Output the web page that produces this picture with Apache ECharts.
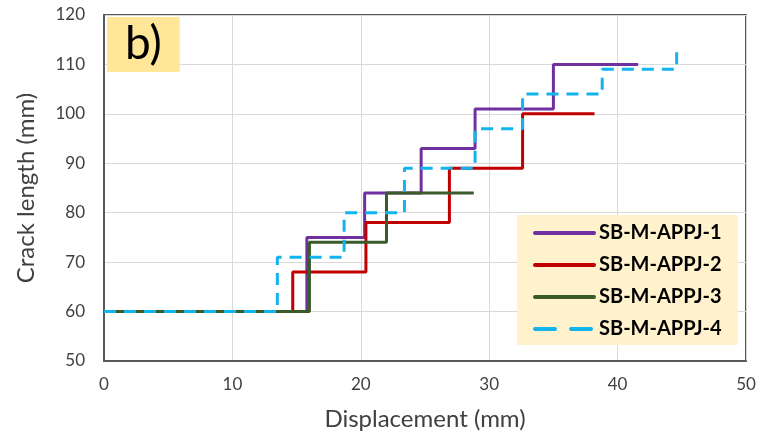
<!DOCTYPE html>
<html>
<head>
<meta charset="utf-8">
<script src="https://cdn.jsdelivr.net/npm/echarts@6/dist/echarts.min.js"></script>
<style>
  html, body { margin: 0; padding: 0; background: #fff; }
  #main { width: 761px; height: 439px; }
</style>
</head>
<body>
<div id="main"></div>
<script>
// step points: x where the crack length jumps, y = new crack length
var names = ["SB-M-APPJ-1", "SB-M-APPJ-2", "SB-M-APPJ-3", "SB-M-APPJ-4"];
var disp1 = [0, 15.8, 20.3, 24.7, 28.9, 35.0, 41.6];
var crack1 = [60, 75, 84, 93, 101, 110, 110];
var disp2 = [0, 14.7, 20.4, 26.9, 32.6, 38.2];
var crack2 = [60, 68, 78, 89, 100, 100];
var disp3 = [0, 16.0, 22.0, 28.8];
var crack3 = [60, 74, 84, 84];
var disp4 = [0, 13.5, 18.7, 23.4, 28.9, 32.6, 38.8, 44.6];
var crack4 = [60, 71, 80, 89, 97, 104, 109, 113];
var colors = ["#7030A0", "#C00000", "#3B5B2A", "#12B4EE"];

function pairs(xs, ys) {
  return xs.map(function (x, i) { return [x, ys[i]]; });
}

var font = "Lato, 'Open Sans', sans-serif";
var allX = [disp1, disp2, disp3, disp4];
var allY = [crack1, crack2, crack3, crack4];

var series = names.map(function (n, i) {
  return {
    name: n,
    type: "line",
    step: "end",
    symbol: "none",
    data: pairs(allX[i], allY[i]),
    lineStyle: {
      color: colors[i],
      width: 3,
      type: i === 3 ? [12, 8] : "solid"
    },
    itemStyle: { color: colors[i] }
  };
});

// legend entries: thicker lines, longer dashes for the blue one
var legendData = names.map(function (n, i) {
  return {
    name: n,
    lineStyle: { width: 4, type: i === 3 ? [20, 16] : "solid", cap: "round" }
  };
});

var myChart = echarts.init(document.getElementById("main"));
myChart.setOption({
  animation: false,
  title: {
    text: "b)",
    left: 107,
    top: 17,
    backgroundColor: "#FFE699",
    padding: [4, 18, 5, 18],
    textStyle: { fontFamily: font, fontSize: 46, lineHeight: 46, fontWeight: "normal", color: "#000" }
  },
  grid: {
    left: 104, right: 15, top: 15, bottom: 78,
    show: true, borderColor: "#595959", borderWidth: 2
  },
  legend: {
    data: legendData,
    orient: "vertical",
    left: 517,
    top: 215,
    backgroundColor: "#FFF2CC",
    padding: [8, 16, 6, 16],
    itemWidth: 59,
    itemHeight: 14,
    itemGap: 12,
    itemStyle: { opacity: 0 },
    textStyle: { fontFamily: font, fontSize: 20, lineHeight: 20, fontWeight: "bold", color: "#000" }
  },
  xAxis: {
    type: "value",
    min: 0, max: 50, interval: 10,
    name: "Displacement (mm)",
    nameLocation: "middle",
    nameGap: 46,
    nameTextStyle: { fontFamily: font, fontSize: 24, color: "#404040" },
    axisLine: { show: true, lineStyle: { color: "#595959", width: 2 } },
    axisTick: { show: false },
    axisLabel: { fontFamily: font, fontSize: 17, color: "#404040", margin: 15 },
    splitLine: { lineStyle: { color: "#D9D9D9" } }
  },
  yAxis: {
    type: "value",
    min: 50, max: 120, interval: 10,
    name: "Crack length (mm)",
    nameLocation: "middle",
    nameGap: 66,
    nameTextStyle: { fontFamily: font, fontSize: 24, color: "#404040" },
    axisLine: { show: true, lineStyle: { color: "#595959", width: 2 } },
    axisTick: { show: false },
    axisLabel: { fontFamily: font, fontSize: 17, color: "#404040", margin: 19 },
    splitLine: { lineStyle: { color: "#D9D9D9" } }
  },
  series: series
});
</script>
</body>
</html>
